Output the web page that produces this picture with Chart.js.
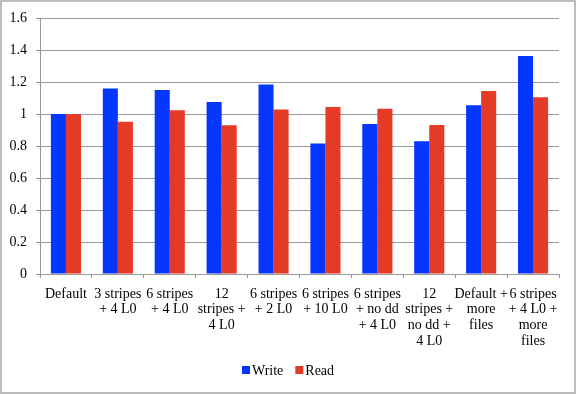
<!DOCTYPE html>
<html><head><meta charset="utf-8">
<script src="https://cdn.jsdelivr.net/npm/chart.js@4/dist/chart.umd.min.js"></script>
<style>
html,body{margin:0;padding:0;background:#fff;}
#wrap{position:relative;width:577px;height:394px;}
#frame{position:absolute;left:0;top:0;width:572px;height:390px;border:2px solid #bcbcbc;pointer-events:none;}
canvas{position:absolute;left:0;top:0;}
</style></head>
<body>
<div id="wrap"><canvas id="c" width="577" height="394"></canvas><div id="frame"></div></div>
<script>
const categories = [
  ["Default"],
  ["3 stripes", "+ 4 L0"],
  ["6 stripes", "+ 4 L0"],
  ["12", "stripes +", "4 L0"],
  ["6 stripes", "+ 2 L0"],
  ["6 stripes", "+ 10 L0"],
  ["6 stripes", "+ no dd", "+ 4 L0"],
  ["12", "stripes +", "no dd +", "4 L0"],
  ["Default +", "more", "files"],
  ["6 stripes", "+ 4 L0 +", "more", "files"]
];
const writeValues = [1.0, 1.16, 1.15, 1.075, 1.185, 0.815, 0.937, 0.83, 1.055, 1.362];
const readValues  = [1.0, 0.952, 1.023, 0.93, 1.028, 1.043, 1.033, 0.932, 1.144, 1.105];
const yTicks = [0, 0.2, 0.4, 0.6, 0.8, 1.0, 1.2, 1.4, 1.6];
const seriesNames = ["Write", "Read"];
const colors = ["#0436fb", "#e43a26"];

const FONT = "'Liberation Serif', 'DejaVu Serif', serif";

const legendPlugin = {
  id: 'customLegend',
  afterDraw(chart) {
    const ctx = chart.ctx;
    ctx.save();
    ctx.font = "14px " + FONT;
    ctx.textBaseline = 'middle';
    const box = 8, gapText = 2, gapItem = 12;
    const items = chart.data.datasets.map(d => ({label: d.label, color: d.backgroundColor, w: ctx.measureText(d.label).width}));
    let total = 0;
    items.forEach((it, i) => { total += box + gapText + it.w + (i < items.length - 1 ? gapItem : 0); });
    let x = Math.round(chart.width / 2 - total / 2);
    const cy = 370;
    items.forEach(it => {
      ctx.fillStyle = it.color;
      ctx.fillRect(x, cy - 4, box, box);
      x += box + gapText;
      ctx.fillStyle = '#000';
      ctx.fillText(it.label, x, cy + 1);
      x += it.w + gapItem;
    });
    ctx.restore();
  }
};

new Chart(document.getElementById('c'), {
  type: 'bar',
  data: {
    labels: categories,
    datasets: [
      {label: seriesNames[0], data: writeValues, backgroundColor: colors[0], borderWidth: 0},
      {label: seriesNames[1], data: readValues, backgroundColor: colors[1], borderWidth: 0}
    ]
  },
  options: {
    responsive: false,
    animation: false,
    devicePixelRatio: 1,
    layout: {padding: {left: 0, right: 18, top: 18, bottom: 0}},
    plugins: {legend: {display: false}, tooltip: {enabled: false}},
    datasets: {bar: {categoryPercentage: 0.58, barPercentage: 1.0}},
    scales: {
      x: {
        offset: true,
        grid: {offset: true, drawOnChartArea: false, drawTicks: true, tickLength: 4, color: '#999', lineWidth: 1},
        border: {color: '#999', width: 1},
        ticks: {color: '#000', font: {family: FONT, size: 14, lineHeight: 1.13}, padding: 8, maxRotation: 0, minRotation: 0, autoSkip: false},
        afterFit(scale) { scale.height = 120; }
      },
      y: {
        min: 0, max: 1.6,
        afterBuildTicks(scale) { scale.ticks = yTicks.map(v => ({value: v})); },
        grid: {color: '#999', lineWidth: 1, tickLength: 4},
        border: {color: '#999', width: 1},
        ticks: {color: '#000', font: {family: FONT, size: 14}, padding: 9,
          callback: v => (Math.round(v * 10) / 10).toString()},
        afterFit(scale) { scale.width = 40; }
      }
    }
  },
  plugins: [legendPlugin]
});
</script>
</body></html>
